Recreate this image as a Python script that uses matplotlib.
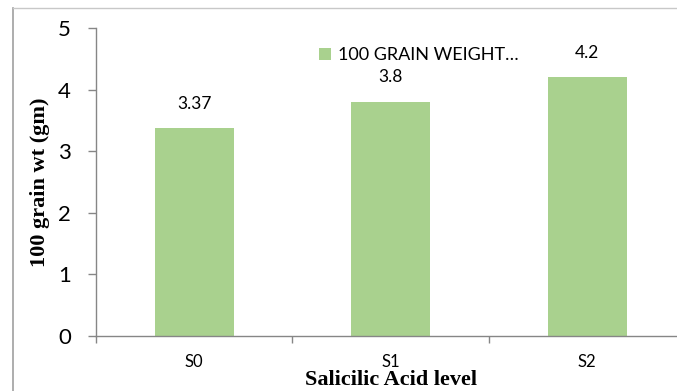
import matplotlib.pyplot as plt
from matplotlib.lines import Line2D
from matplotlib.patches import Patch

# --- Data ---
levels = ["S0", "S1", "S2"]
grain_wt = [3.37, 3.8, 4.2]
value_labels = ["3.37", "3.8", "4.2"]
series_name = "100 GRAIN WEIGHT\u2026"

bar_color = "#A9D18E"
axis_grey = "#868686"

plt.rcParams['font.family'] = ['Lato', 'DejaVu Sans']

fig = plt.figure(figsize=(6.77, 3.91), dpi=100)
ax = fig.add_axes([96 / 677, 1 - 336 / 391, 589.5 / 677, 308 / 391])

x = list(range(len(levels)))
bars = ax.bar(x, grain_wt, width=0.4, color=bar_color, zorder=2)

for xi, val, lab in zip(x, grain_wt, value_labels):
    ax.annotate(lab, (xi, val), xytext=(0, 12), textcoords="offset points",
                ha="center", va="bottom", fontsize=12.5)

ax.set_xlim(-0.5, len(levels) - 0.5)
ax.set_ylim(0, 5)
ax.set_yticks(range(0, 6))
ax.set_xticks(x)
ax.set_xticklabels(levels, fontsize=12)
ax.set_xticks([i - 0.5 for i in range(len(levels) + 1)], minor=True)
ax.tick_params(axis="x", which="major", length=0, pad=13)
ax.tick_params(axis="x", which="minor", length=5, color=axis_grey, width=1)
ax.tick_params(axis="y", length=6, color=axis_grey, width=1, labelsize=16, pad=12)

for side in ["top", "right"]:
    ax.spines[side].set_visible(False)
for side in ["left", "bottom"]:
    ax.spines[side].set_color(axis_grey)
    ax.spines[side].set_linewidth(1)

ax.set_ylabel("100 grain wt (gm)", fontsize=16, fontweight="bold",
              family="Liberation Serif", labelpad=6)
ax.set_xlabel("Salicilic Acid level", fontsize=16, fontweight="bold",
              family="Liberation Serif", labelpad=0)

ax.legend([Patch(facecolor=bar_color)], [series_name], loc="upper left",
          bbox_to_anchor=(0.35, 0.99), frameon=False, fontsize=13,
          handlelength=0.7, handleheight=0.7, handletextpad=0.4)

# chart border (Excel chart area)
fig.add_artist(Line2D([13 / 677, 13 / 677], [0, 1 - 8 / 391],
                      transform=fig.transFigure, color="#A0A0A0", lw=1.2))
fig.add_artist(Line2D([13 / 677, 1], [1 - 8 / 391, 1 - 8 / 391],
                      transform=fig.transFigure, color="#C8C8C8", lw=1))

fig.savefig("out.png", dpi=100)
